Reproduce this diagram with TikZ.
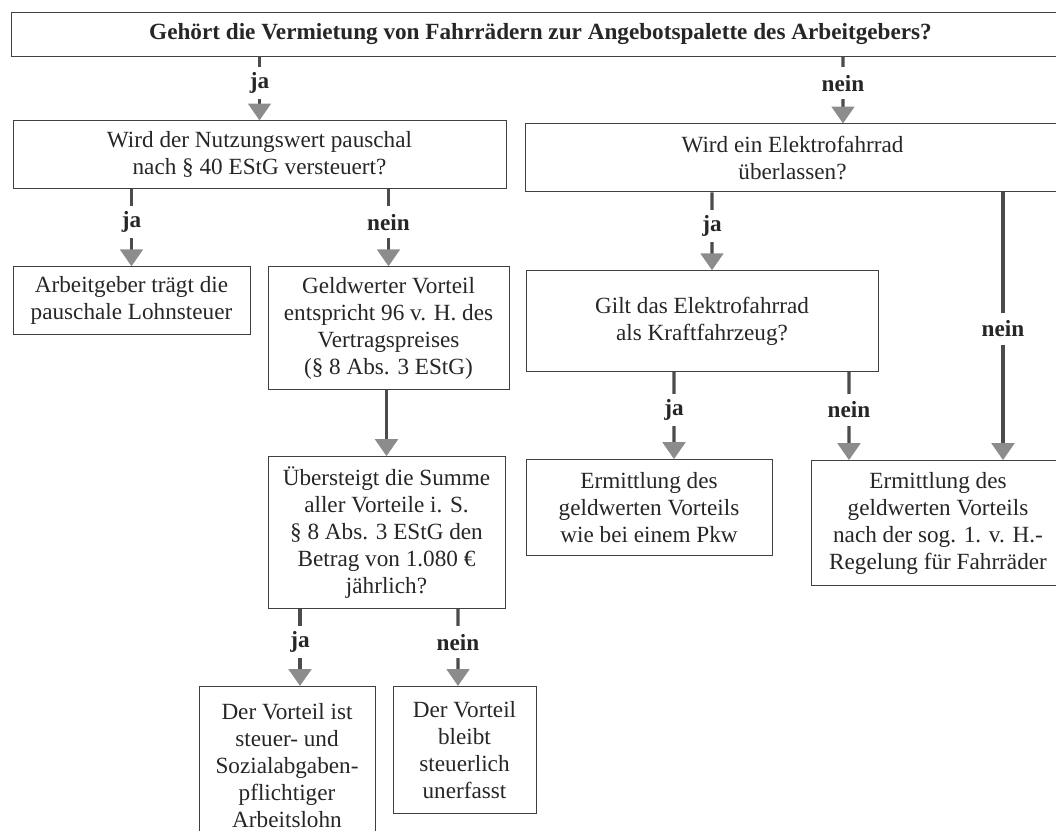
\documentclass[tikz,border=0pt]{standalone}
\usepackage{fontspec}
\setmainfont{Liberation Serif}
\usepackage{tikz}
\usetikzlibrary{positioning}
\usetikzlibrary{arrows.meta}

\begin{document}
\begin{tikzpicture}[
  font=\fontsize{16.5}{19.2}\selectfont,
  box/.style={draw=black!75, line width=0.6pt, align=center, inner sep=0pt, text=black!85},
  arrow/.style={draw=black!70, line width=2.4pt, -{Triangle[width=16pt, length=12pt, color=black!45]}},
  lbl/.style={fill=white, font=\fontsize{16.5}{19.2}\selectfont\bfseries, inner sep=1pt, minimum height=0.8cm, pos=0.43, text=black!85}
]

\useasboundingbox (0,0) rectangle (26.4,-20.775);
\clip (0,0) rectangle (26.4,-20.775);

% Main question
\node[box, minimum width=26.475cm, minimum height=1.1cm, font=\fontsize{16.5}{19.2}\selectfont\bfseries] (q0) at (13.5125,-0.85)
{Gehört die Vermietung von Fahrrädern zur Angebotspalette des Arbeitgebers?};

% Left branch (ja)
\node[box, below=1.6cm of q0, xshift=-7.025cm, minimum width=12.325cm, minimum height=1.7cm] (q1)
{Wird der Nutzungswert pauschal\\nach § 40 EStG versteuert?};
\node[box, below=1.925cm of q1, xshift=-3.2cm, minimum width=5.925cm, minimum height=1.7cm] (a1)
{Arbeitgeber trägt die\\pauschale Lohnsteuer};
\node[box, below=1.925cm of q1, xshift=3.225cm, minimum width=6.025cm, minimum height=3.075cm] (g1)
{Geldwerter Vorteil\\entspricht 96 v. H. des\\Vertragspreises\\(§ 8 Abs. 3 EStG)};
\node[box, below=1.65cm of g1, xshift=-0.05cm, minimum width=5.925cm, minimum height=3.8cm] (u1)
{Übersteigt die Summe\\aller Vorteile i. S.\\§ 8 Abs. 3 EStG den\\Betrag von 1.080 €\\jährlich?};
\node[box, below=1.925cm of u1, xshift=-2.4875cm, minimum width=4.4cm, minimum height=3.95cm] (v1)
{Der Vorteil ist\\steuer- und\\Sozialabgaben-\\pflichtiger\\Arbeitslohn};
\node[box, below=1.925cm of u1, xshift=1.95cm, minimum width=3.575cm, minimum height=3.175cm] (v2)
{Der Vorteil\\bleibt\\steuerlich\\unerfasst};

% Right branch (nein)
\node[box, below=1.675cm of q0, xshift=6.3cm, minimum width=13.375cm, minimum height=1.7cm] (q2)
{Wird ein Elektrofahrrad\\überlassen?};
\node[box, below=1.95cm of q2, xshift=-2.2625cm, minimum width=8.8cm, minimum height=2.525cm] (q3)
{Gilt das Elektrofahrrad\\als Kraftfahrzeug?};
\node[box, below=2.175cm of q3, xshift=-1.325cm, minimum width=6.15cm, minimum height=2.4cm] (e1)
{Ermittlung des\\geldwerten Vorteils\\wie bei einem Pkw};
\node[box, below=2.2cm of q3, xshift=5.9cm, minimum width=6.35cm, minimum height=3.125cm] (e2)
{Ermittlung des\\geldwerten Vorteils\\nach der sog. 1. v. H.-\\Regelung für Fahrräder};

% Connectors
\draw[arrow] (q1.north |- q0.south) -- node[lbl, pos=0.41]{ja} (q1.north);
\draw[arrow] ([xshift=7.5625cm]q0.south) -- node[lbl, pos=0.4]{nein} ([xshift=1.2625cm]q2.north);
\draw[arrow] (a1.north |- q1.south) -- node[lbl]{ja} (a1.north);
\draw[arrow] (g1.north |- q1.south) -- node[lbl]{nein} (g1.north);
\draw[arrow] (u1.north |- g1.south) -- (u1.north);
\draw[arrow] ([xshift=-2.1625cm]u1.south) -- node[lbl]{ja} ([xshift=0.325cm]v1.north);
\draw[arrow] ([xshift=1.7875cm]u1.south) -- node[lbl]{nein} ([xshift=-0.1625cm]v2.north);
\draw[arrow] ([xshift=-2.0125cm]q2.south) -- node[lbl]{ja} ([xshift=0.25cm]q3.north);
\draw[arrow] ([xshift=5.2625cm]q2.south) -- node[lbl, pos=0.51]{nein} ([xshift=1.625cm]e2.north);
\draw[arrow] ([xshift=-0.7cm]q3.south) -- node[lbl]{ja} ([xshift=0.625cm]e1.north);
\draw[arrow] ([xshift=3.675cm]q3.south) -- node[lbl]{nein} ([xshift=-2.225cm]e2.north);

\end{tikzpicture}
\end{document}
